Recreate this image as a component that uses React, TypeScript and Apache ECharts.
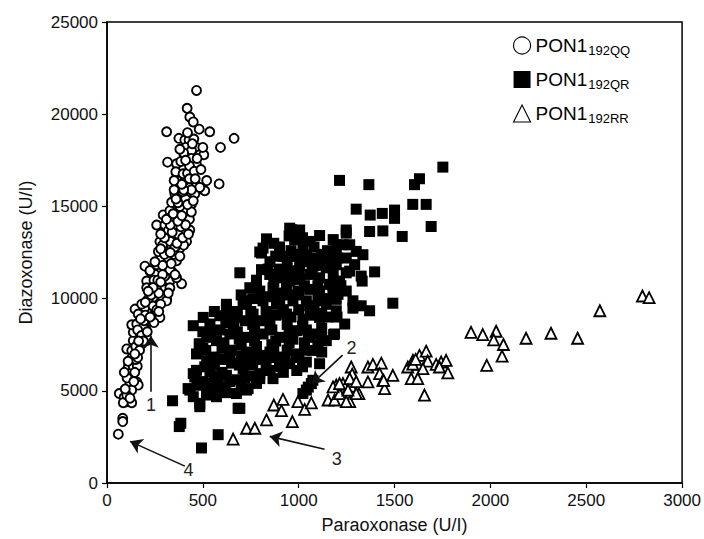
import React, { useEffect, useRef } from "react";
import * as echarts from "echarts";

const FONT = '"Liberation Sans", Arial, Helvetica, sans-serif';

const X_MIN = 0;
const X_MAX = 3000;
const X_INTERVAL = 500;
const Y_MIN = 0;
const Y_MAX = 25000;
const Y_INTERVAL = 5000;

const X_TITLE = "Paraoxonase (U/I)";
const Y_TITLE = "Diazoxonase (U/I)";

const GROUP_MAIN = "PON1";
const GROUP_SUBS = ["192QQ", "192QR", "192RR"];

// PON1 192QQ (open circles): [paraoxonase, diazoxonase]
const QQ_POINTS: [number, number][] = [
  [59, 2650], [82, 3510], [82, 3330], [64, 4855], [89, 4640], [103, 4410], [129, 4355], [85, 4355],
  [111, 6290], [137, 6290], [158, 6330], [116, 5930], [129, 5660], [120, 5390], [155, 5480], [163, 5310],
  [129, 5040], [103, 4770], [103, 7270], [129, 7180], [155, 7100], [181, 7540], [137, 7720], [172, 7900],
  [137, 8170], [129, 8580], [155, 8620], [189, 8440], [220, 8980], [193, 8800], [233, 9340], [146, 9430],
  [163, 9160], [198, 9520], [250, 9160], [276, 8980], [267, 9880], [241, 10060], [224, 10240], [311, 9970],
  [302, 10420], [207, 10950], [250, 10680], [285, 10590], [328, 10950], [311, 11490], [389, 10810],
  [224, 11490], [250, 11310], [207, 10590], [259, 10500], [302, 11220], [337, 11490], [363, 11130],
  [328, 10590], [285, 10140], [311, 9880], [215, 9970], [181, 9700],
  [198, 11760], [224, 11520], [259, 11840], [276, 12110], [302, 11840], [328, 11570], [363, 12050],
  [311, 12550], [268, 12550], [337, 12820], [380, 12730], [415, 13090], [276, 13090], [311, 13450],
  [354, 13270], [398, 13540], [432, 13720], [259, 13990], [302, 13990], [337, 14260], [380, 14350],
  [424, 14350], [293, 14540], [328, 14770], [372, 14770], [415, 14950], [441, 15130], [337, 15220],
  [389, 15310], [354, 15670], [415, 15670], [458, 15670], [372, 16030], [424, 16120], [467, 16120],
  [510, 15850], [484, 16030], [380, 16500], [406, 16400], [372, 16860], [398, 17040], [363, 17310],
  [467, 21290], [418, 20320], [432, 19850], [450, 19580], [481, 19190], [536, 19050], [311, 19050],
  [663, 18690], [592, 18200], [375, 18690], [406, 18600], [428, 18600], [453, 18650], [411, 18200],
  [467, 18200], [441, 18030], [484, 17800], [505, 17800], [316, 17400], [385, 17440], [467, 17260],
  [359, 16880], [397, 16770], [585, 16220],
  [230, 10200], [270, 10300], [245, 11000], [290, 11800], [320, 12200], [350, 12400], [290, 12900],
  [330, 13100], [370, 13500], [320, 13700], [350, 14000], [400, 14100], [360, 14500], [400, 14700],
  [430, 14300], [380, 15000], [410, 15400], [440, 15900], [350, 15900], [395, 15800], [420, 16800],
  [440, 17600], [400, 17900], [430, 17200], [240, 9600], [200, 9100], [175, 8900], [160, 8300],
  [150, 7400], [130, 6800], [145, 6000], [105, 5700], [150, 6700], [170, 7200], [120, 4600],
  [180, 8000], [210, 8200], [245, 8700], [260, 9400], [280, 9700], [225, 9000], [190, 7700], [165, 7700],
  [265, 11000], [290, 11300], [335, 11900], [380, 12300], [400, 12900], [355, 12800], [300, 12400],
  [250, 12000], [280, 12700], [330, 12500], [365, 13000], [395, 13300], [425, 13500], [300, 13300],
  [280, 13500], [340, 13600], [385, 13900], [410, 14000], [330, 14000], [370, 14200], [310, 14300],
  [345, 14600], [390, 14500], [440, 14700], [370, 15200], [420, 15100], [400, 15900], [360, 15400],
  [450, 15300], [430, 16500], [455, 16900], [470, 17600], [500, 18200], [445, 18400], [420, 19000],
  [460, 16500], [390, 16200], [350, 16400], [520, 16400], [490, 17000], [410, 17500], [380, 18100],
  [355, 11300], [240, 10600], [280, 10900], [320, 10300], [215, 10400], [200, 9800], [270, 9300],
  [95, 5100], [140, 5500], [110, 6600], [160, 6800], [90, 6000], [145, 7000],
];

// PON1 192QR (filled squares)
const QR_POINTS: [number, number][] = [
  [1752, 17130], [1630, 16500], [1604, 16180], [1213, 16410], [1366, 16180], [1595, 15110], [1665, 15110],
  [1300, 14850], [1373, 14530], [1436, 14620], [1500, 14800], [1500, 14350], [1691, 13910], [1540, 13370],
  [1396, 11450], [1326, 11220], [1331, 10950], [1491, 9750], [1283, 9480], [1326, 9610], [1370, 9340],
  [1240, 8620], [1182, 8050], [1370, 13640], [1439, 13670], [1248, 13550], [1266, 12920], [1196, 12920],
  [1248, 12200], [1300, 12560], [1196, 11840], [1266, 11490], [1335, 12380], [1179, 10680], [1205, 10230],
  [832, 13240], [797, 12530], [918, 12290], [953, 13820], [1005, 13720], [1109, 13420], [1248, 13720],
  [962, 13730], [979, 13190], [1022, 12920], [1231, 12920], [806, 12470], [979, 12290], [1040, 12380],
  [1092, 12200], [1144, 12200], [1196, 12380], [1292, 11840], [1074, 11760], [1144, 11670], [1005, 11840],
  [693, 11400], [806, 11570], [849, 11310], [901, 11130], [953, 10950], [1005, 11040], [1057, 11310],
  [1109, 11130], [1161, 10770], [1213, 10950], [1248, 11400], [745, 10590], [797, 10410], [866, 10590],
  [936, 10590], [996, 10410], [1057, 10500], [1109, 10410], [1179, 10230], [1248, 10410], [623, 9690],
  [728, 9880], [814, 9880], [901, 9880], [970, 9880], [1040, 9880], [1109, 9880], [1196, 9960],
  [1283, 9880], [814, 12740],
  [450, 8530], [537, 8620], [623, 9520], [710, 9690], [884, 9690], [1057, 9610], [1144, 9690], [1196, 9340],
  [484, 7540], [571, 7720], [641, 8080], [728, 7900], [814, 8080], [901, 7900], [988, 8260], [1074, 8080],
  [1144, 7720], [467, 7000], [554, 6830], [641, 7000], [728, 7100], [814, 6920], [901, 6830], [988, 7000],
  [1074, 7190], [502, 8980], [589, 9070], [675, 8980], [762, 9160], [849, 9070], [936, 9160], [1022, 8890],
  [1109, 8980], [450, 5930], [537, 6020], [623, 5840], [710, 6200], [797, 5930], [866, 5660], [953, 6470],
  [1040, 6560], [1109, 6470], [432, 5040], [519, 5120], [606, 5210], [675, 4850], [736, 5120], [797, 5660],
  [484, 4320], [571, 4680], [693, 4050], [1187, 8080], [580, 2620], [493, 1900], [377, 3060], [385, 3240],
  [342, 4460], [481, 7540], [515, 7190], [467, 6110], [458, 5750], [423, 5120], [450, 4680], [484, 4140],
  [519, 4770], [562, 5040], [684, 4050], [728, 5040],
  [1040, 5040], [1066, 5390], [1022, 4850], [1074, 5570], [1050, 5200],
  [189, 8620], [200, 8400], [175, 8300],
  [660, 8500], [760, 8600], [850, 8500], [940, 8600], [1020, 8500], [700, 7500], [780, 7400], [860, 7500],
  [950, 7600], [1030, 7600], [1100, 7500], [600, 7300], [560, 6400], [650, 6500], [740, 6600], [830, 6400],
  [900, 6300], [1000, 6800], [600, 6000], [680, 5600], [760, 6400], [850, 7100], [1000, 9400], [1080, 9300],
  [920, 9400], [750, 9300], [830, 9300], [680, 9300], [900, 10300], [1000, 10200], [1150, 10000],
  [870, 10900], [950, 11500], [1050, 12000], [1100, 11800], [1150, 12600], [1020, 13300], [900, 12800],
  [960, 12600], [1080, 12800], [850, 12000], [780, 11000], [1150, 9000], [1200, 9000], [620, 8700],
  [540, 8100], [520, 6600], [580, 5600],
  [500, 8200], [590, 8300], [680, 8200], [770, 8250], [860, 8300], [950, 8100], [1040, 8300], [1120, 8400],
  [520, 7900], [610, 7600], [690, 7800], [770, 7700], [880, 7700], [970, 7800], [1050, 7900], [1120, 7900],
  [500, 7300], [650, 7200], [700, 6900], [780, 7200], [870, 7300], [940, 7200], [1030, 7200], [1120, 7100],
  [510, 6300], [600, 6700], [690, 6400], [780, 6700], [860, 6800], [930, 6700], [1020, 6300],
  [500, 5500], [560, 5800], [640, 5500], [720, 5700], [780, 5400], [850, 6100], [920, 6000], [990, 6100],
  [470, 5300], [540, 5400], [620, 4900], [700, 5300], [760, 5800],
  [560, 9300], [640, 9200], [720, 8800], [800, 8800], [880, 9100], [960, 9000], [1060, 9100], [1120, 9200],
  [700, 10200], [760, 10000], [850, 10100], [950, 10200], [1030, 10700], [1100, 10700], [780, 10700],
  [840, 11600], [900, 11600], [1000, 11500], [1070, 11600], [1180, 11300], [880, 12300], [940, 12000],
  [1010, 12400], [1120, 12400], [1200, 12200], [870, 13000], [950, 13400], [1060, 13100], [1180, 13200],
  [1100, 10000], [1220, 10700],
];

// PON1 192RR (open triangles)
const RR_POINTS: [number, number][] = [
  [658, 2380], [728, 2970], [771, 2970], [832, 3420], [967, 3330], [870, 4230], [918, 4530], [910, 3920],
  [996, 4410], [1031, 3990], [1066, 4350], [1153, 4500], [1187, 4500], [1266, 4410], [1314, 4850],
  [1213, 4850], [1257, 5120], [1196, 5310], [1231, 5390], [1274, 5250], [1274, 6290], [1279, 5900],
  [1266, 5660], [1361, 6290], [1387, 6430], [1431, 6500], [1361, 5480], [1422, 5930], [1439, 5570],
  [1448, 5120], [1491, 5840], [1569, 6290], [1596, 6650], [1630, 6920], [1621, 6430], [1665, 7150],
  [1673, 6610], [1648, 6200], [1587, 5660], [1621, 5660], [1656, 4770], [1717, 6430], [1743, 6560],
  [1769, 6650], [1778, 5970], [1734, 6290], [1899, 8170], [1960, 8050], [2030, 8230], [2017, 7760],
  [2068, 7510], [2061, 6880], [1981, 6380], [2186, 7850], [2316, 8120], [2455, 7850], [2571, 9340],
  [2793, 10140], [2828, 10050], [1300, 4850], [1248, 4410], [1179, 5210], [1257, 5040], [1213, 5390],
  [1443, 5570], [1595, 6450], [1610, 6700], [1300, 5500],
];

// Annotation arrows: label, arrow tail, arrow tip, label position (data units)
const ARROW_LABELS = ["1", "2", "3", "4"];
const ARROW_FROM: [number, number][] = [[229, 4950], [1229, 6935], [1135, 1828], [406, 914]];
const ARROW_TO: [number, number][] = [[229, 7990], [1068, 5376], [849, 2527], [120, 2258]];
const ARROW_TEXT: [number, number][] = [[229, 4250], [1276, 7300], [1198, 1300], [425, 680]];

export default function App() {
  const ref = useRef<HTMLDivElement>(null);

  useEffect(() => {
    document.body.style.margin = "0";
    if (!ref.current) return;
    const chart = echarts.init(ref.current, undefined, { renderer: "svg" });

    const names = GROUP_SUBS.map((s) => `${GROUP_MAIN} ${s}`);
    const plain = (v: number) => String(v);

    const option: any = {
      animation: false,
      backgroundColor: "#fff",
      textStyle: { fontFamily: FONT },
      grid: {
        left: 107,
        right: 21,
        top: 22,
        bottom: 52,
        show: true,
        borderColor: "#000",
        borderWidth: 1.5,
        backgroundColor: "transparent",
      },
      legend: {
        orient: "vertical",
        left: 508,
        top: 31,
        itemWidth: 17,
        itemHeight: 17,
        itemGap: 13,
        selectedMode: false,
        data: [
          { name: names[0], icon: "circle", itemStyle: { color: "#fff", borderColor: "#000", borderWidth: 1.1, opacity: 1 } },
          { name: names[1], icon: "rect", itemStyle: { color: "#000", borderWidth: 0, opacity: 1 } },
          { name: names[2], icon: "triangle", itemStyle: { color: "#fff", borderColor: "#000", borderWidth: 1.1, opacity: 1 } },
        ],
        formatter: (name: string) => {
          const sub = name.split(" ")[1];
          return `{a|${GROUP_MAIN}}{b|${sub}}`;
        },
        textStyle: {
          fontFamily: FONT,
          rich: {
            a: { fontSize: 19, color: "#000", fontFamily: FONT },
            b: { fontSize: 13, color: "#000", fontFamily: FONT, padding: [10, 0, 0, 1] },
          },
        },
      },
      xAxis: {
        type: "value",
        min: X_MIN,
        max: X_MAX,
        interval: X_INTERVAL,
        name: X_TITLE,
        nameLocation: "middle",
        nameGap: 33,
        nameTextStyle: { fontSize: 18, color: "#111", fontFamily: FONT },
        axisLine: { show: true, lineStyle: { color: "#000", width: 1.5 } },
        axisTick: { show: true, length: 5, inside: false, lineStyle: { color: "#000", width: 1.2 } },
        axisLabel: { fontSize: 17, color: "#111", margin: 9, fontFamily: FONT, formatter: plain },
        splitLine: { show: false },
      },
      yAxis: {
        type: "value",
        min: Y_MIN,
        max: Y_MAX,
        interval: Y_INTERVAL,
        name: Y_TITLE,
        nameLocation: "middle",
        nameGap: 72,
        nameRotate: 90,
        nameTextStyle: { fontSize: 18, color: "#111", fontFamily: FONT },
        axisLine: { show: true, lineStyle: { color: "#000", width: 1.5 } },
        axisTick: { show: true, length: 5, inside: false, lineStyle: { color: "#000", width: 1.2 } },
        axisLabel: { fontSize: 17, color: "#111", margin: 9, fontFamily: FONT, formatter: plain },
        splitLine: { show: false },
      },
      series: [
        {
          name: names[1],
          type: "scatter",
          symbol: "rect",
          symbolSize: 11,
          data: QR_POINTS,
          itemStyle: { color: "#000", opacity: 1 },
          z: 2,
        },
        {
          name: names[0],
          type: "scatter",
          symbol: "circle",
          symbolSize: 9,
          data: QQ_POINTS,
          itemStyle: { color: "#fff", borderColor: "#000", borderWidth: 1.9, opacity: 1 },
          z: 3,
        },
        {
          name: names[2],
          type: "scatter",
          symbol: "triangle",
          symbolSize: 11,
          data: RR_POINTS,
          itemStyle: { color: "#fff", borderColor: "#000", borderWidth: 1.8, opacity: 1 },
          z: 4,
        },
        {
          name: "annotations",
          type: "scatter",
          data: [],
          silent: true,
          z: 5,
          markLine: {
            silent: true,
            symbol: ["none", "arrow"],
            symbolSize: 12,
            label: { show: false },
            lineStyle: { color: "#111", width: 1.6, type: "solid", opacity: 1 },
            data: ARROW_FROM.map((f, i) => [{ coord: f }, { coord: ARROW_TO[i] }]),
          },
          markPoint: {
            silent: true,
            symbol: "rect",
            symbolSize: 1,
            itemStyle: { color: "rgba(0,0,0,0)" },
            data: ARROW_TEXT.map((c, i) => ({
              coord: c,
              value: ARROW_LABELS[i],
              label: {
                show: true,
                position: "inside",
                formatter: ARROW_LABELS[i],
                fontSize: 18,
                color: "#222",
                fontFamily: FONT,
              },
            })),
          },
        },
      ],
    };

    chart.setOption(option);
    return () => chart.dispose();
  }, []);

  return <div ref={ref} style={{ width: 704, height: 539 }} />;
}
